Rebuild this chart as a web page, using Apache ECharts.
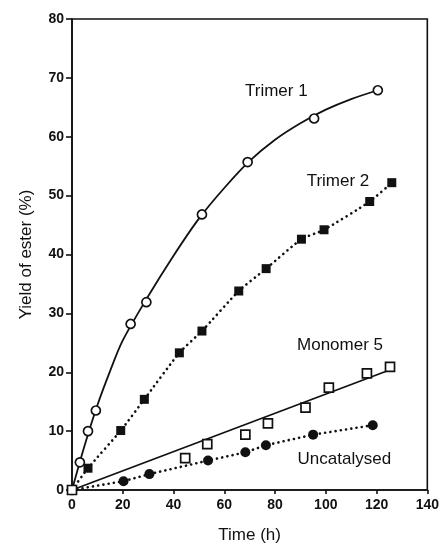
<!DOCTYPE html>
<html>
<head>
<meta charset="utf-8">
<script src="https://cdn.jsdelivr.net/npm/echarts@6/dist/echarts.min.js"></script>
<style>
html,body{margin:0;padding:0;background:#fff;}
#chart{width:442px;height:549px;}
</style>
</head>
<body>
<div id="chart"></div>
<script>
// Data: [time (h), yield (%)]
var trimer1 = [[0,0],[3.1,4.7],[6.3,10],[9.4,13.5],[23.1,28.2],[29.3,31.9],[51.2,46.8],[69.2,55.7],[95.4,63.1],[120.5,67.9]];
// the drawn Trimer 1 curve, read along its path
var trimer1Curve = [[0,0],[5,7.6],[10,14.4],[15,20.2],[20,25.4],[30,32.9],[40,39.8],[50,46.1],[60,51.3],[70,55.9],[80,59.5],[90,62.3],[100,64.6],[110,66.4],[120.5,67.9]];
var trimer2 = [[0,0],[6.3,3.7],[19.2,10.1],[28.5,15.4],[42.3,23.3],[51.2,27],[65.7,33.8],[76.5,37.6],[90.4,42.6],[99.3,44.2],[117.3,49],[126,52.2]];
var monomer5 = [[0,0],[44.6,5.4],[53.3,7.8],[68.3,9.4],[77.2,11.3],[92,14],[101.2,17.4],[116.2,19.8],[125.3,20.9]];
var monomer5Fit = [[0,0],[124.6,20.3]];
var uncatalysed = [[0,0],[20.3,1.5],[30.5,2.7],[53.6,5.0],[68.3,6.4],[76.4,7.6],[95,9.4],[118.5,11.0]];
var xTicks = [0,20,40,60,80,100,120,140];
var yTicks = [0,10,20,30,40,50,60,70,80];
var seriesLabels = [
  {name:'Trimer 1', at:[80.5,67.8]},
  {name:'Trimer 2', at:[104.8,52.5]},
  {name:'Monomer 5', at:[105.6,24.5]},
  {name:'Uncatalysed', at:[107.3,5.2]}
];

var FONT = '"Liberation Sans", Arial, Helvetica, sans-serif';
var chart = echarts.init(document.getElementById('chart'), null, {renderer:'canvas'});

function labelMark(i){
  return {
    silent:true,
    symbol:'circle',
    symbolSize:1,
    itemStyle:{color:'rgba(0,0,0,0)'},
    data:[{coord:seriesLabels[i].at, value:seriesLabels[i].name}],
    label:{show:true, position:'inside', formatter:seriesLabels[i].name,
      color:'#111', fontSize:17, fontFamily:FONT}
  };
}

var dotted = {color:'#111', width:2.6, type:[0.1,5.2], cap:'round'};

chart.setOption({
  animation:false,
  backgroundColor:'#fff',
  grid:{left:72, right:12, top:19, bottom:56, show:true, borderColor:'#111', borderWidth:1.6, backgroundColor:'transparent'},
  xAxis:{
    type:'value', min:xTicks[0], max:xTicks[xTicks.length-1], interval:20,
    name:'Time (h)', nameLocation:'middle', nameGap:37,
    nameTextStyle:{color:'#111', fontSize:17, fontFamily:FONT},
    axisLine:{show:true, onZero:false, lineStyle:{color:'#111', width:1.6}},
    axisTick:{show:true, inside:false, length:4, lineStyle:{color:'#111', width:1.6}},
    axisLabel:{color:'#111', fontSize:14, fontWeight:'bold', fontFamily:FONT, margin:8},
    splitLine:{show:false}
  },
  yAxis:{
    type:'value', min:yTicks[0], max:yTicks[yTicks.length-1], interval:10,
    name:'Yield of ester (%)', nameLocation:'middle', nameGap:37,
    nameTextStyle:{color:'#111', fontSize:17, fontFamily:FONT},
    axisLine:{show:true, onZero:false, lineStyle:{color:'#111', width:1.6}},
    axisTick:{show:true, inside:false, length:6, lineStyle:{color:'#111', width:1.6}},
    axisLabel:{color:'#111', fontSize:14, fontWeight:'bold', fontFamily:FONT, margin:8},
    splitLine:{show:false}
  },
  series:[
    {name:'Trimer 1 curve', type:'line', data:trimer1Curve, smooth:0.3, symbol:'none', z:2,
     lineStyle:{color:'#111', width:1.8}},
    {name:'Trimer 1', type:'scatter', data:trimer1, z:4,
     symbol:'circle', symbolSize:9,
     itemStyle:{color:'#fff', borderColor:'#111', borderWidth:1.7, opacity:1}, markPoint:labelMark(0)},
    {name:'Trimer 2', type:'line', data:trimer2, smooth:0.2, z:3,
     symbol:'rect', symbolSize:9, showAllSymbol:true,
     itemStyle:{color:'#111', borderColor:'#111', borderWidth:0, opacity:1},
     lineStyle:dotted, markPoint:labelMark(1)},
    {name:'Monomer 5 fit', type:'line', data:monomer5Fit, symbol:'none', z:2,
     lineStyle:{color:'#111', width:1.8}},
    {name:'Monomer 5', type:'scatter', data:monomer5, z:4,
     symbol:'rect', symbolSize:9,
     itemStyle:{color:'#fff', borderColor:'#111', borderWidth:1.7, opacity:1}, markPoint:labelMark(2)},
    {name:'Uncatalysed', type:'line', data:uncatalysed, smooth:false, z:3,
     symbol:'circle', symbolSize:10, showAllSymbol:true,
     itemStyle:{color:'#111', borderColor:'#111', borderWidth:0, opacity:1},
     lineStyle:dotted, markPoint:labelMark(3)}
  ]
});
</script>
</body>
</html>
